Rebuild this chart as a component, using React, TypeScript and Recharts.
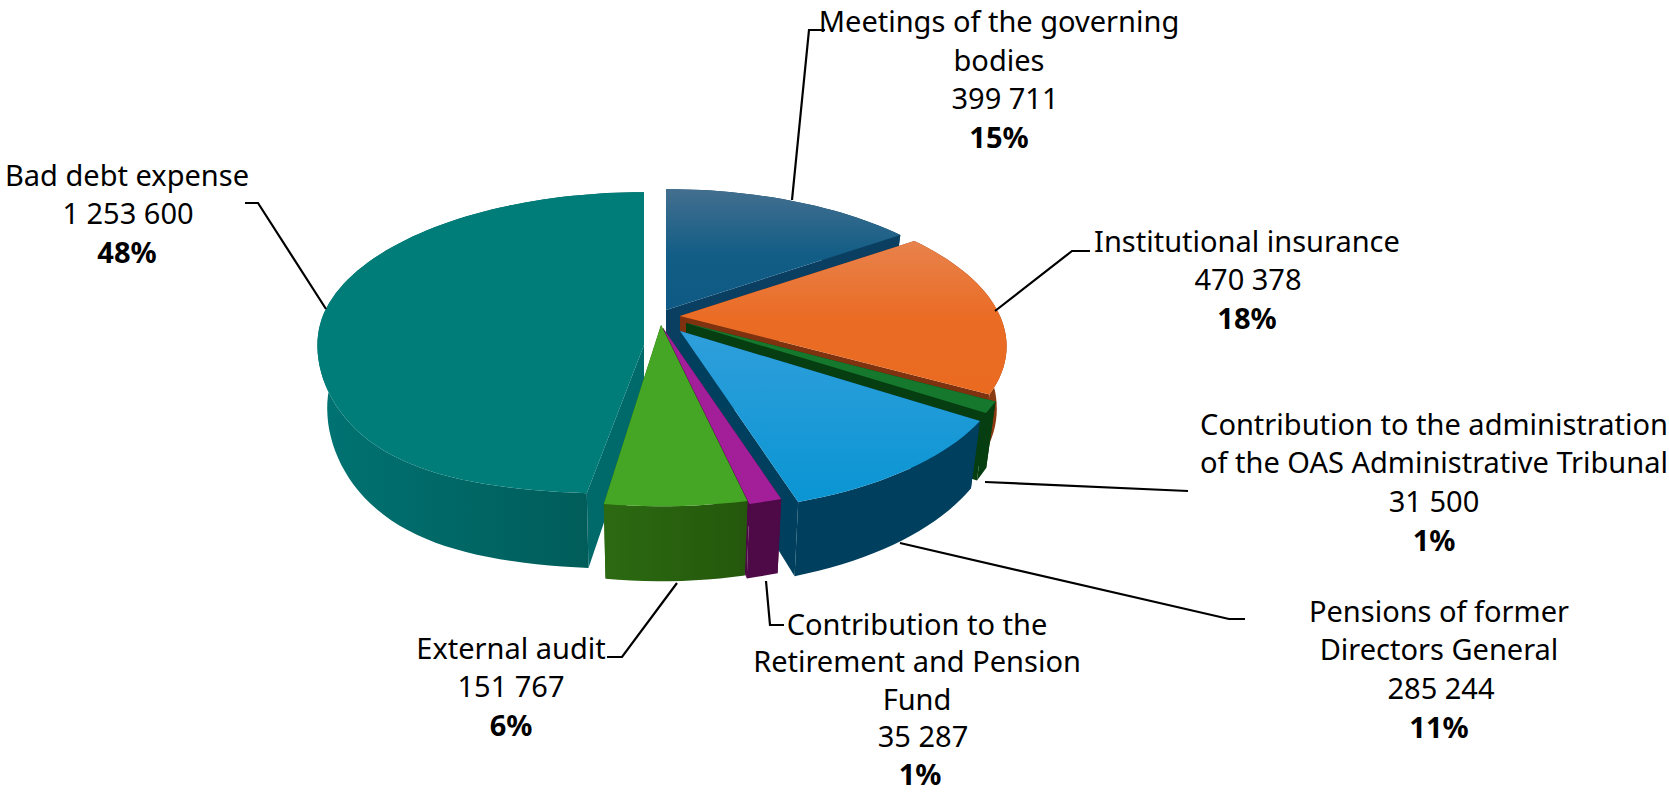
import * as React from "react"
import { Pie, PieChart } from "recharts"

const categories = [
  "Meetings of the governing bodies",
  "Institutional insurance",
  "Contribution to the administration of the OAS Administrative Tribunal",
  "Pensions of former Directors General",
  "Contribution to the Retirement and Pension Fund",
  "External audit",
  "Bad debt expense",
]
const amounts = [399711, 470378, 31500, 285244, 35287, 151767, 1253600]
const amountLabels = ["399 711", "470 378", "31 500", "285 244", "35 287", "151 767", "1 253 600"]
const percentLabels = ["15%", "18%", "1%", "11%", "1%", "6%", "48%"]
const nameLines = [
  ["Meetings of the governing", "bodies"],
  ["Institutional insurance"],
  ["Contribution to the administration", "of the OAS Administrative Tribunal"],
  ["Pensions of former", "Directors General"],
  ["Contribution to the", "Retirement and Pension", "Fund"],
  ["External audit"],
  ["Bad debt expense"],
]

const pieData = categories.map((name, i) => ({ name, value: amounts[i] }))

// exploded centre of each slice on screen, the angles still come from the Pie
const sliceCentres = [
  { ax: 666, ay: 310 },
  { ax: 680, ay: 316 },
  { ax: 686, ay: 323 },
  { ax: 680, ay: 331 },
  { ax: 663, ay: 328 },
  { ax: 661, ay: 325 },
  { ax: 644, ay: 313, tipY: 345, bulge: 16 },
]
const topFills = ["url(#topBlue)", "url(#topOrange)", "#15782c", "url(#topSky)", "#a31f9a", "#45a524", "#007d78"]
const cutFills = ["#0b3f62", "#7e3210", "#063e12", "#003f5e", "#4e0a46", "#29610f", "#00696a"]
const wallFills = ["#0b3f62", "#8a3a10", "#063e12", "#003f5e", "#4e0a46", "url(#wallGreen)", "url(#wallTeal)"]

const labelBoxes = [
  { x: 999, y: 20, lineHeight: 38.5 },
  { x: 1247, y: 239.5, lineHeight: 38.9 },
  { x: 1434, y: 422.5, lineHeight: 38.9 },
  { x: 1439, y: 609.5, lineHeight: 38.9 },
  { x: 917, y: 622.5, lineHeight: 37.5 },
  { x: 511, y: 646.5, lineHeight: 38.9 },
  { x: 127, y: 173.5, lineHeight: 38.9 },
]
// the number lines are not quite centred under the names in the original
const amountShift = [6, 1, 0, 2, 6, 0, 1]
const percentShift = [0, 0, 0, 0, 3, 0, 0]
const leaderLines = [
  "825,30 809,30 792,200",
  "1090,251 1072,251 995,311",
  "1188,491 985,482",
  "1245,619 1229,619 900,543",
  "784,625 770,625 766,581",
  "607,657 622,657 677,583",
  "245,203 258,203 326,309",
]

const RADIUS_X = 320
const RADIUS_Y = 145
const DEPTH = 60
const PERSPECTIVE = 0.2

const project = (index: number, deg: number) => {
  const c = sliceCentres[index]
  const a = (deg * Math.PI) / 180
  const wx = Math.sin(a)
  const wy = -Math.cos(a)
  const f = 1 / (1 - PERSPECTIVE * wy)
  // the front left of the big slice is rounder than a plain ellipse
  const extra = wy > 0 ? (c.bulge ?? 0) * 4 * (wx * wy) ** 2 : 0
  return { x: c.ax + RADIUS_X * wx * f, y: c.ay + RADIUS_Y * wy * f + extra, f }
}
const drop = (p: { x: number; y: number; f: number }, index: number) => {
  const c = sliceCentres[index]
  return { x: c.ax + (p.x - c.ax) * 0.97, y: p.y + DEPTH * p.f, f: p.f }
}
const toPath = (pts: { x: number; y: number }[]) =>
  "M" + pts.map((p) => `${p.x.toFixed(1)},${p.y.toFixed(1)}`).join("L") + "Z"

const Slice3D = (props: any) => {
  const { index, startAngle, endAngle } = props
  // recharts angles run counter-clockwise from 3 o'clock
  const from = 90 - startAngle
  const to = 90 - endAngle
  const arc = []
  const steps = Math.max(2, Math.ceil((to - from) / 2))
  for (let i = 0; i <= steps; i++) arc.push(project(index, from + ((to - from) * i) / steps))
  const c = sliceCentres[index]
  const tip = { x: c.ax, y: c.tipY ?? c.ay, f: 1 }
  const first = arc[0]
  const last = arc[arc.length - 1]
  const wall = [...arc, ...arc.map((p) => drop(p, index)).reverse()]
  return (
    <g>
      <path d={toPath([tip, first, drop(first, index), drop(tip, index)])} fill={cutFills[index]} />
      <path d={toPath([tip, last, drop(last, index), drop(tip, index)])} fill={cutFills[index]} />
      <path d={toPath(wall)} fill={wallFills[index]} />
      <path d={toPath([tip, ...arc])} fill={topFills[index]} />
    </g>
  )
}

const renderLabel = (props: any) => {
  const { index } = props
  const box = labelBoxes[index]
  const lines = nameLines[index]
  return (
    <g key={index}>
      <polyline points={leaderLines[index]} fill="none" stroke="#000" strokeWidth={2.2} />
      <text x={box.x} y={box.y} textAnchor="middle" fontFamily="'Noto Sans'" fontSize={29} fill="#000" dominantBaseline="central">
        {lines.map((line, i) => (
          <tspan key={i} x={box.x} y={box.y + i * box.lineHeight}>{line}</tspan>
        ))}
        <tspan x={box.x + amountShift[index]} y={box.y + lines.length * box.lineHeight}>{amountLabels[index]}</tspan>
        <tspan x={box.x + percentShift[index]} y={box.y + (lines.length + 1) * box.lineHeight} fontWeight={700}>{percentLabels[index]}</tspan>
      </text>
    </g>
  )
}

export default function App() {
  return (
    <div style={{ position: "absolute", left: 0, top: 0, width: 1669, height: 793, background: "#fff" }}>
      <PieChart width={1669} height={793} margin={{ top: 0, right: 0, bottom: 0, left: 0 }}>
        <defs>
          <linearGradient id="topBlue" x1="0" y1="0" x2="0" y2="1">
            <stop offset="0%" stopColor="#436f8f" />
            <stop offset="55%" stopColor="#125d86" />
            <stop offset="100%" stopColor="#0e5a84" />
          </linearGradient>
          <linearGradient id="topOrange" x1="0" y1="0" x2="0" y2="1">
            <stop offset="0%" stopColor="#e8824c" />
            <stop offset="50%" stopColor="#ea6c25" />
            <stop offset="100%" stopColor="#ea6a20" />
          </linearGradient>
          <linearGradient id="topSky" x1="0" y1="0" x2="0" y2="1">
            <stop offset="0%" stopColor="#2f9fdb" />
            <stop offset="100%" stopColor="#0a95d3" />
          </linearGradient>
          <linearGradient id="wallTeal" x1="0" y1="0" x2="1" y2="0">
            <stop offset="0%" stopColor="#007372" />
            <stop offset="40%" stopColor="#006867" />
            <stop offset="75%" stopColor="#005f5c" />
            <stop offset="100%" stopColor="#005855" />
          </linearGradient>
          <linearGradient id="wallGreen" x1="0" y1="0" x2="1" y2="0">
            <stop offset="0%" stopColor="#2c6a12" />
            <stop offset="100%" stopColor="#24570b" />
          </linearGradient>
        </defs>
        {/* the big slice sits behind its neighbours, so it gets drawn first */}
        <Pie
          data={pieData}
          dataKey="value"
          nameKey="name"
          cx={655}
          cy={325}
          outerRadius={300}
          startAngle={90}
          endAngle={-270}
          stroke="none"
          isAnimationActive={false}
          shape={(p: any) => (p.index === 6 ? <Slice3D {...p} /> : <g />)}
        />
        <Pie
          data={pieData}
          dataKey="value"
          nameKey="name"
          cx={655}
          cy={325}
          outerRadius={300}
          startAngle={90}
          endAngle={-270}
          stroke="none"
          isAnimationActive={false}
          shape={(p: any) => (p.index === 6 ? <g /> : <Slice3D {...p} />)}
          label={renderLabel}
          labelLine={false}
        />
      </PieChart>
    </div>
  )
}
